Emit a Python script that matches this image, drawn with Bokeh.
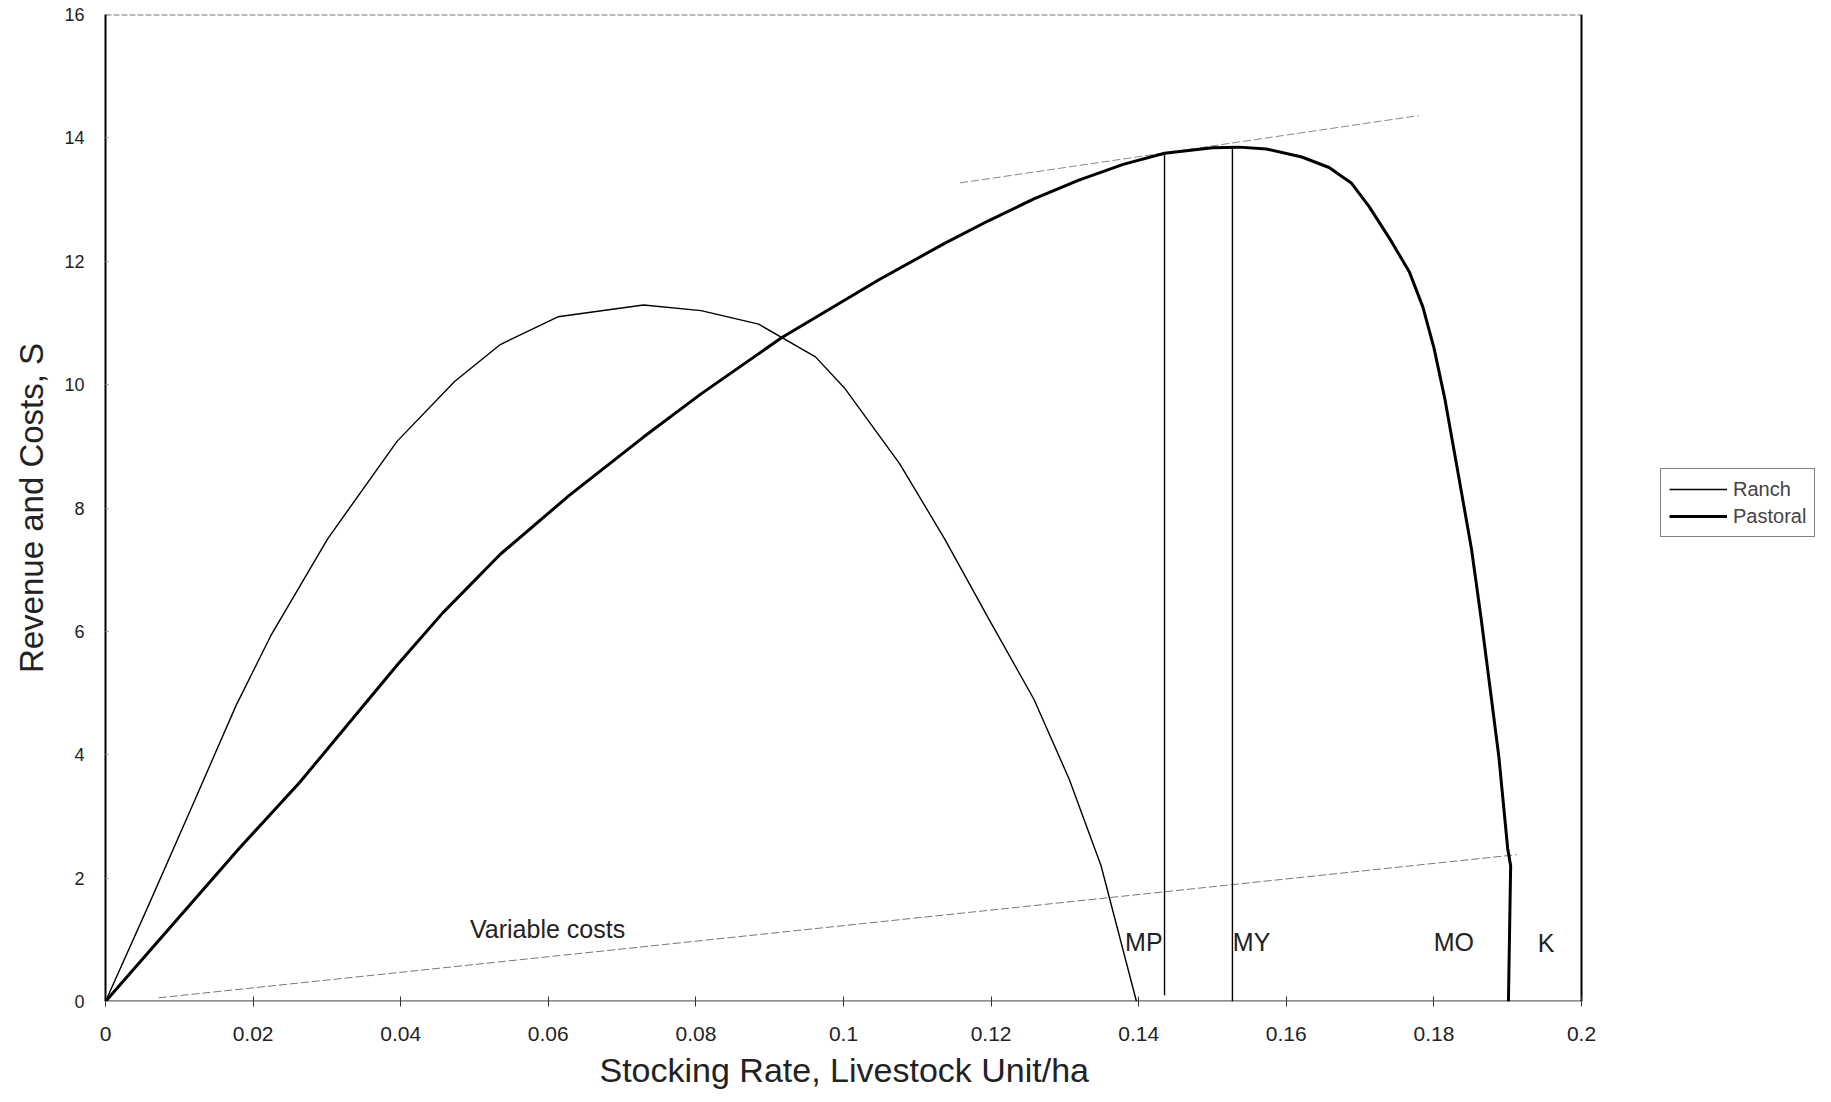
from bokeh.plotting import figure
from bokeh.models import Label, Legend, LegendItem, FixedTicker, Range1d, Title
from bokeh.embed import file_html
from bokeh.resources import INLINE

# ---- data ----
ranch_x = [0, 0.0058, 0.0115, 0.0146, 0.0177, 0.0224, 0.0301, 0.0395, 0.0473, 0.0535,
           0.0613, 0.0729, 0.0807, 0.0885, 0.0962, 0.1001, 0.1076, 0.1137, 0.1197,
           0.1258, 0.1306, 0.1349, 0.1397]
ranch_y = [0, 1.55, 3.1, 3.95, 4.80, 5.93, 7.50, 9.08, 10.05, 10.65,
           11.10, 11.29, 11.20, 10.98, 10.45, 9.95, 8.72, 7.5, 6.2,
           4.9, 3.6, 2.2, 0]

pastoral_x = [0, 0.0181, 0.0263, 0.0395, 0.0457, 0.0535, 0.0628, 0.0729, 0.0807, 0.0916,
              0.1048, 0.1137, 0.1197, 0.1258, 0.1318, 0.1379, 0.1435, 0.1500, 0.1536,
              0.1573, 0.1621, 0.1658, 0.1688, 0.1712, 0.1742, 0.1767, 0.1785, 0.1800,
              0.1815, 0.1833, 0.1851, 0.1864, 0.1876, 0.1888, 0.1900, 0.1904, 0.1901]
pastoral_y = [0, 2.48, 3.55, 5.45, 6.30, 7.25, 8.2, 9.15, 9.85, 10.76,
              11.7, 12.29, 12.66, 13.01, 13.31, 13.57, 13.75, 13.84, 13.85,
              13.82, 13.69, 13.52, 13.27, 12.89, 12.33, 11.82, 11.26, 10.60,
              9.76, 8.55, 7.33, 6.21, 5.09, 3.97, 2.48, 2.20, 0]

varcost_x = [0.0072, 0.1912]
varcost_y = [0.06, 2.38]

tangent_x = [0.1158, 0.1779]
tangent_y = [13.27, 14.36]

mp_x = [0.1435, 0.1435]
mp_y = [0.1, 13.75]
my_x = [0.1527, 0.1527]
my_y = [0.0, 13.85]

x_ticks = [0, 0.02, 0.04, 0.06, 0.08, 0.1, 0.12, 0.14, 0.16, 0.18, 0.2]
x_tick_labels = ["0", "0.02", "0.04", "0.06", "0.08", "0.1", "0.12", "0.14", "0.16", "0.18", "0.2"]
y_ticks = [0, 2, 4, 6, 8, 10, 12, 14, 16]

annot_text = ["Variable costs", "MP", "MY", "MO", "K"]
annot_x = [0.0599, 0.1407, 0.1553, 0.1827, 0.1952]
annot_y = [1.18, 0.97, 0.97, 0.97, 0.95]

FONT = "Liberation Sans"

# ---- layout (pixels) ----
FIG_W, FIG_H = 1831, 1102
BORDER_L, BORDER_T = 105, 14
FRAME_BOTTOM = 1001
BORDER_B = FIG_H - FRAME_BOTTOM
PLOT_W = 1476                       # pixel width of the 0..0.2 box
FRAME_W = FIG_W - BORDER_L          # frame extends to the right edge to host the legend
X0, X1 = x_ticks[0], x_ticks[-1]
Y0, Y1 = y_ticks[0], y_ticks[-1]
X_END = X1 * FRAME_W / PLOT_W

p = figure(width=FIG_W, height=FIG_H, output_backend="svg", toolbar_location=None,
           x_range=Range1d(X0, X_END), y_range=Range1d(Y0, Y1),
           min_border_left=BORDER_L, min_border_right=0,
           min_border_top=BORDER_T, min_border_bottom=BORDER_B)
p.outline_line_color = None
p.xgrid.visible = False
p.ygrid.visible = False
p.background_fill_color = "white"

# axes
p.xaxis.ticker = FixedTicker(ticks=x_ticks)
p.xaxis.major_label_overrides = {t: l for t, l in zip(x_ticks, x_tick_labels)}
p.yaxis.ticker = FixedTicker(ticks=y_ticks)
for ax in (p.xaxis, p.yaxis):
    ax.minor_tick_line_color = None
    ax.major_label_text_color = "#222222"
p.xaxis.major_label_text_font = FONT
p.xaxis.major_label_text_font_size = "21px"
p.yaxis.major_label_text_font = FONT
p.yaxis.major_label_text_font_size = "18px"
p.xaxis.axis_line_color = None
p.xaxis.major_tick_line_color = "#333333"
p.xaxis.major_tick_in = 5
p.xaxis.major_tick_out = 5
p.xaxis.major_label_standoff = 20
p.yaxis.axis_line_color = "black"
p.yaxis.axis_line_width = 2
p.yaxis.major_tick_line_color = "#999999"
p.yaxis.major_tick_in = 3
p.yaxis.major_tick_out = 0
p.yaxis.major_label_standoff = 21
p.yaxis.axis_label = "Revenue and Costs, S"
p.yaxis.axis_label_text_font = FONT
p.yaxis.axis_label_text_font_style = "normal"
p.yaxis.axis_label_text_font_size = "33px"
p.yaxis.axis_label_text_color = "#222222"
p.yaxis.axis_label_standoff = 11

# x axis title, placed under the 0..0.2 box
p.add_layout(Title(text="Stocking Rate, Livestock Unit/ha", align="left", offset=494,
                   vertical_align="top", text_line_height=0.6,
                   text_font=FONT, text_font_size="34px", text_font_style="normal",
                   text_color="#222222", standoff=14), "below")

# box borders: bottom axis line, right solid, top faint
p.line([X0, X1], [Y0, Y0], line_color="#666666", line_width=2.4)
p.line([X0, X1], [Y1, Y1], line_color="#777777", line_width=2, line_dash="6 2")
p.line([X1, X1], [Y0, Y1], line_color="black", line_width=2)

# cost and tangent lines
p.line(varcost_x, varcost_y, line_color="#777777", line_width=1, line_dash="8 3")
p.line(tangent_x, tangent_y, line_color="#888888", line_width=1, line_dash="8 3")

# vertical markers
p.line(mp_x, mp_y, line_color="black", line_width=1.4)
p.line(my_x, my_y, line_color="black", line_width=1.4)

# curves
r_ranch = p.line(ranch_x, ranch_y, line_color="black", line_width=1.4, line_join="round")
r_past = p.line(pastoral_x, pastoral_y, line_color="black", line_width=3, line_join="round")

for t, x, y in zip(annot_text, annot_x, annot_y):
    p.add_layout(Label(x=x, y=y, text=t, text_align="center", text_baseline="middle",
                       text_font=FONT, text_font_size="25px", text_color="#222222"))

legend = Legend(items=[LegendItem(label="Ranch", renderers=[r_ranch]),
                       LegendItem(label="Pastoral", renderers=[r_past])],
                location=(PLOT_W + 79, 464), orientation="vertical",
                border_line_color="black", border_line_width=1,
                label_text_font=FONT, label_text_font_size="20px",
                glyph_width=58, glyph_height=24, spacing=3, padding=8, margin=0,
                label_standoff=6, background_fill_alpha=1)
p.add_layout(legend, "center")

open("out.html", "w").write(file_html(p, INLINE))
